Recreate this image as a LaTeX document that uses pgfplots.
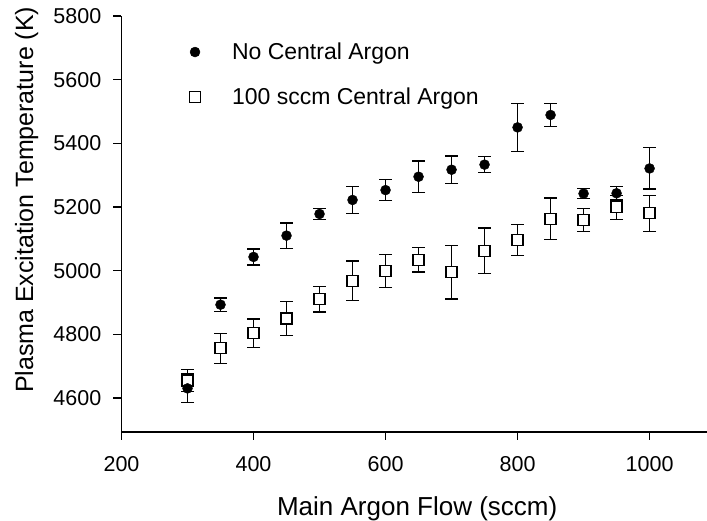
\documentclass[border=0pt]{standalone}
\usepackage{pgfplots}
\pgfplotsset{compat=1.18}
\usepackage{fontspec}
\setmainfont{Liberation Sans}
\begin{document}
\begin{tikzpicture}
\begin{axis}[
  at={(0,0)}, anchor=south west,
  scale only axis, width=585.5pt, height=416pt,
  xmin=200, xmax=1087, ymin=4493, ymax=5800,
  axis x line*=bottom, axis y line*=left,
  axis line style={line width=1.5pt, black},
  xtick={200,400,600,800,1000},
  ytick={4600,4800,5000,5200,5400,5600,5800},
  minor tick num=0,
  tick align=outside,
  major tick length=8pt,
  tick style={line width=1.3pt, black},
  /pgf/number format/assume math mode=true,
  /pgf/number format/set thousands separator={},
  tick label style={font=\fontsize{21.5}{24}\selectfont},
  xticklabel style={inner sep=0pt, anchor=north, yshift=-16pt},
  yticklabel style={inner sep=0pt, anchor=east, xshift=-12pt},
  xlabel={Main Argon Flow (sccm)},
  ylabel={Plasma Excitation Temperature (K)},
  every axis x label/.style={at={(axis description cs:0.505,-0.154)}, anchor=north, inner sep=0pt, font=\fontsize{26}{30}\selectfont},
  every axis y label/.style={at={(axis description cs:-0.182,0.558)}, rotate=90, anchor=north, inner sep=0pt, font=\fontsize{25}{30}\selectfont},
  legend style={draw=none, fill=none, inner sep=0pt, outer sep=0pt, at={(0.1085,0.94)}, anchor=north west, font=\fontsize{23}{27}\selectfont, row sep=23pt},
  legend cell align=left,
  legend image code/.code={\path[draw=none, fill=none] (0pt,0pt) -- (45pt,0pt); \draw[#1] plot coordinates {(10pt,0pt)};},
  clip=false,
]
\addlegendimage{only marks, mark=*, mark size=5pt, black}
\addlegendentry{No Central Argon}
\addlegendimage{only marks, mark=square*, mark size=5.5pt, mark options={fill=white, draw=black, line width=1.3pt}}
\addlegendentry{100 sccm Central Argon}

\addplot+[forget plot, only marks, mark=square*, mark size=5.5pt, black,
  mark options={fill=white, draw=black, line width=1.3pt, solid},
  error bars/.cd, y dir=both, y explicit,
  error bar style={line width=1.3pt, black},
  error mark options={rotate=90, mark size=6.5pt, line width=1.3pt, black}]
table[x=x, y=y, y error=e] {
x y e
300 4655 35
350 4756 47
400 4803 45
450 4850 53
500 4910 40
550 4968 62
600 4998 52
650 5034 38
700 4995 84
750 5062 72
800 5096 49
850 5163 65
900 5159 36
950 5199 38
1000 5180 56
};

\addplot+[forget plot, only marks, mark=*, mark size=5pt, black,
  mark options={fill=black, draw=black, solid},
  error bars/.cd, y dir=both, y explicit,
  error bar style={line width=1.3pt, black},
  error mark options={rotate=90, mark size=6.5pt, line width=1.3pt, black}]
table[x=x, y=y, y error=e] {
x y e
300 4630 45
350 4893 21
400 5043 25
450 5110 40
500 5178 17
550 5222 42
600 5253 33
650 5295 49
700 5317 43
750 5333 25
800 5450 75
850 5489 36
900 5242 15
950 5243 21
1000 5321 65
};
\end{axis}
\pgfresetboundingbox
\path (-121.5pt,-89pt) rectangle (585.5pt,432pt);
\end{tikzpicture}
\end{document}
